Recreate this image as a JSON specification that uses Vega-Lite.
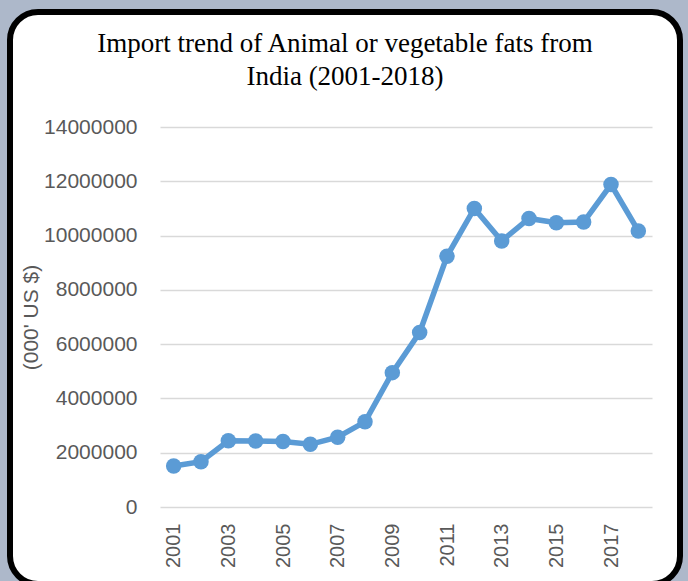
{
  "$schema": "https://vega.github.io/schema/vega-lite/v6.json",
  "autosize": {"type": "none"},
  "padding": {"left": 10, "top": 12, "right": 8, "bottom": 0},
  "width": 670,
  "height": 572,
  "background": "#adb8ca",
  "title": {
    "text": ["Import trend of Animal or vegetable fats from", "India (2001-2018)"],
    "font": "Liberation Serif",
    "fontSize": 27,
    "fontWeight": "normal",
    "color": "#000000",
    "lineHeight": 33,
    "baseline": "top",
    "offset": -79,
    "anchor": "middle",
    "frame": "group"
  },
  "data": {
    "values": [
      {"year": 2001, "value": 1510000},
      {"year": 2002, "value": 1670000},
      {"year": 2003, "value": 2440000},
      {"year": 2004, "value": 2430000},
      {"year": 2005, "value": 2410000},
      {"year": 2006, "value": 2310000},
      {"year": 2007, "value": 2570000},
      {"year": 2008, "value": 3140000},
      {"year": 2009, "value": 4950000},
      {"year": 2010, "value": 6430000},
      {"year": 2011, "value": 9240000},
      {"year": 2012, "value": 11000000},
      {"year": 2013, "value": 9800000},
      {"year": 2014, "value": 10630000},
      {"year": 2015, "value": 10470000},
      {"year": 2016, "value": 10500000},
      {"year": 2017, "value": 11880000},
      {"year": 2018, "value": 10170000}
    ]
  },
  "mark": {
    "type": "line",
    "color": "#5b9bd5",
    "strokeWidth": 5.5,
    "point": {"filled": true, "size": 240, "color": "#5b9bd5", "opacity": 1}
  },
  "encoding": {
    "x": {
      "field": "year",
      "type": "ordinal",
      "scale": {"type": "point", "range": [150, 642], "padding": 0.5},
      "axis": {
        "title": null,
        "offset": -77,
        "values": [2001, 2003, 2005, 2007, 2009, 2011, 2013, 2015, 2017],
        "labelAngle": 270,
        "labelAlign": "right",
        "labelBaseline": "middle",
        "labelPadding": 16,
        "ticks": false,
        "tickSize": 0,
        "domain": false,
        "grid": false,
        "labelFont": "Liberation Sans",
        "labelFontSize": 20,
        "labelColor": "#595959"
      }
    },
    "y": {
      "field": "value",
      "type": "quantitative",
      "scale": {"domain": [0, 14000000], "range": [495, 115], "nice": false, "zero": true},
      "axis": {
        "title": "(000' US $)",
        "titleFont": "Liberation Sans",
        "titleFontSize": 21,
        "titleFontWeight": "normal",
        "titleColor": "#595959",
        "titleAngle": -90,
        "titleX": -129,
        "titleY": 305,
        "titleAlign": "center",
        "titleBaseline": "middle",
        "offset": -150,
        "values": [0, 2000000, 4000000, 6000000, 8000000, 10000000, 12000000, 14000000],
        "format": "d",
        "labelPadding": 23,
        "ticks": false,
        "tickSize": 0,
        "domain": false,
        "grid": true,
        "gridColor": "#d9d9d9",
        "gridWidth": 1.5,
        "labelFont": "Liberation Sans",
        "labelFontSize": 21,
        "labelColor": "#595959"
      }
    }
  },
  "config": {
    "view": {"fill": "#ffffff", "stroke": "#000000", "strokeWidth": 6, "cornerRadius": 28}
  }
}
